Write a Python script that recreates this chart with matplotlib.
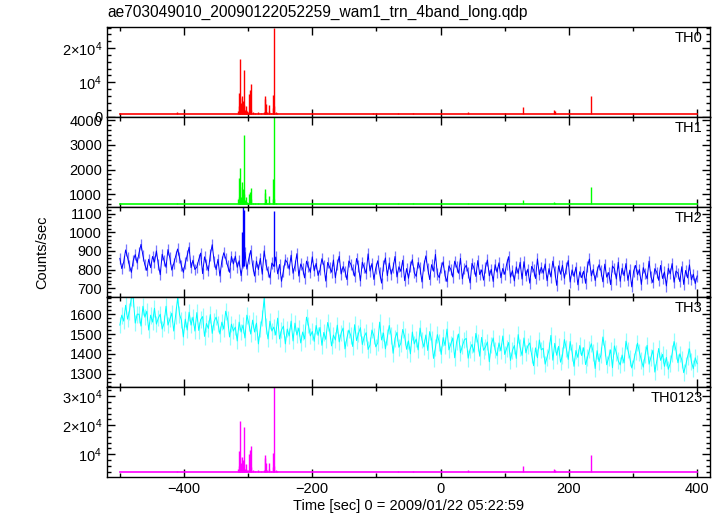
import numpy as np
import matplotlib
matplotlib.use("Agg")
import matplotlib.pyplot as plt
from matplotlib.ticker import MultipleLocator, FixedLocator, FixedFormatter

plt.rcParams['font.family'] = ['Liberation Sans', 'DejaVu Sans']
plt.rcParams['mathtext.fontset'] = 'custom'
plt.rcParams['mathtext.rm'] = 'Liberation Sans'
plt.rcParams['mathtext.it'] = 'Liberation Sans'

title = "ae703049010_20090122052259_wam1_trn_4band_long.qdp"
bands = ["TH0", "TH1", "TH2", "TH3", "TH0123"]
colors = ["#ff0000", "#00ff00", "#0000ff", "#00ffff", "#ff00ff"]

# 3 s grid for the noisy bands
t_start, t_stop, t_step = -500, 400, 3

th2 = [860, 805, 840, 905, 865, 820, 785, 850, 880, 835,
       890, 935, 875, 825, 795, 855, 810, 870, 840, 900,
       827, 772, 882, 847, 812, 907, 862, 797, 832, 872,
       910, 865, 820, 785, 835, 875, 920, 810, 850, 800,
       813, 853, 888, 778, 868, 828, 793, 878, 933, 843,
       800, 855, 765, 845, 890, 860, 820, 785, 870, 830,
       872, 812, 847, 767, 837, 892, 802, 857, 902, 822,
       765, 845, 800, 860, 775, 900, 825, 790, 755, 835,
       817, 867, 777, 827, 737, 792, 852, 837, 802, 877,
       780, 820, 885, 765, 830, 805, 755, 845, 815, 785,
       868, 793, 833, 768, 798, 858, 823, 738, 838, 813,
       786, 851, 756, 826, 871, 776, 816, 791, 746, 846,
       829, 799, 764, 859, 819, 739, 839, 809, 779, 884,
       792, 832, 747, 807, 847, 782, 727, 822, 862, 767,
       835, 775, 810, 870, 760, 815, 790, 850, 740, 805,
       753, 818, 853, 783, 763, 838, 808, 733, 823, 873,
       806, 746, 826, 791, 881, 776, 756, 811, 841, 766,
       735, 820, 800, 760, 845, 815, 780, 860, 750, 805,
       823, 783, 728, 833, 808, 763, 848, 773, 798, 743,
       811, 851, 766, 801, 736, 826, 786, 836, 756, 806,
       774, 829, 869, 759, 794, 739, 814, 779, 839, 749,
       842, 767, 802, 727, 817, 797, 752, 857, 772, 812,
       780, 830, 740, 805, 760, 845, 790, 715, 820, 775,
       823, 753, 808, 848, 733, 798, 763, 813, 718, 788,
       756, 791, 726, 816, 856, 766, 801, 741, 791, 826,
       794, 734, 829, 759, 784, 719, 819, 804, 749, 839,
       737, 807, 767, 832, 742, 797, 707, 792, 822, 772,
       800, 720, 810, 780, 750, 845, 760, 730, 805, 785,
       742, 822, 752, 787, 712, 807, 777, 832, 732, 792,
       780, 735, 815, 720, 795, 755, 825, 745, 775, 725,
       765]

th3 = [1545, 1595, 1565, 1645, 1575, 1615, 1685, 1680, 1555, 1600,
       1600, 1540, 1640, 1585, 1615, 1520, 1595, 1560, 1630, 1550,
       1580, 1600, 1525, 1555, 1640, 1545, 1575, 1605, 1515, 1595,
       1680, 1600, 1570, 1485, 1575, 1520, 1610, 1545, 1585, 1515,
       1608, 1518, 1573, 1588, 1488, 1553, 1528, 1598, 1503, 1563,
       1585, 1550, 1500, 1560, 1525, 1615, 1575, 1485, 1550, 1515,
       1535, 1465, 1560, 1510, 1545, 1480, 1595, 1555, 1500, 1570,
       1510, 1555, 1450, 1525, 1580, 1680, 1540, 1475, 1565, 1515,
       1535, 1495, 1580, 1475, 1520, 1540, 1450, 1525, 1490, 1565,
       1465, 1555, 1495, 1530, 1455, 1510, 1475, 1585, 1545, 1490,
       1513, 1463, 1543, 1493, 1533, 1443, 1508, 1473, 1558, 1518,
       1440, 1495, 1470, 1545, 1460, 1505, 1530, 1425, 1480, 1520,
       1492, 1437, 1547, 1467, 1502, 1532, 1447, 1487, 1507, 1422,
       1445, 1520, 1490, 1435, 1455, 1560, 1470, 1505, 1425, 1485,
       1543, 1493, 1403, 1478, 1508, 1433, 1453, 1523, 1488, 1423,
       1465, 1400, 1510, 1450, 1475, 1420, 1530, 1470, 1435, 1495,
       1417, 1512, 1472, 1377, 1432, 1497, 1457, 1397, 1482, 1442,
       1525, 1420, 1450, 1480, 1380, 1460, 1500, 1405, 1440, 1470,
       1478, 1378, 1423, 1448, 1408, 1503, 1458, 1388, 1483, 1418,
       1435, 1460, 1360, 1445, 1480, 1420, 1390, 1455, 1415, 1490,
       1397, 1427, 1457, 1367, 1417, 1442, 1377, 1497, 1432, 1392,
       1480, 1405, 1440, 1455, 1395, 1340, 1430, 1380, 1470, 1420,
       1428, 1348, 1383, 1418, 1493, 1368, 1453, 1393, 1438, 1358,
       1392, 1472, 1427, 1372, 1462, 1407, 1337, 1417, 1382, 1442,
       1391, 1431, 1346, 1381, 1421, 1451, 1406, 1326, 1416, 1361,
       1395, 1485, 1430, 1345, 1380, 1420, 1330, 1440, 1405, 1365,
       1344, 1394, 1354, 1464, 1419, 1379, 1329, 1364, 1409, 1454,
       1408, 1368, 1333, 1398, 1443, 1348, 1383, 1418, 1308, 1363,
       1427, 1367, 1397, 1337, 1382, 1322, 1352, 1402, 1462, 1417,
       1355, 1400, 1370, 1305, 1340, 1385, 1425, 1360, 1325, 1380,
       1350]
th2_err = 30
th3_err = 42

# quiet levels of the spiky bands
th0_base = 700
th1_base = 600
th0123_base = 3700

# burst spikes (1 s bins)
flare_t = [-316, -315, -314, -313, -312, -311, -310, -309, -308, -307,
           -306, -305, -304, -303, -302, -300, -298, -297, -296, -295,
           -293, -290, -285, -280, -275, -274, -273, -272, -270, -268,
           -267, -265, -262, -261, -260, -259, -257, -255,
           -411, -105, -66, -43, 43, 129, 177, 179, 234]
th0_flare = [1500, 6800, 3000, 5500, 16900, 4000, 6000, 2500, 4500, 13500,
             3500, 2000, 1800, 3000, 1500, 1400, 6500, 7800, 9400, 2000,
             1200, 1000, 1300, 1000, 1200, 6000, 5200, 3800, 1200, 1500,
             3400, 1000, 2500, 6300, 25800, 3000, 1200, 900,
             1200, 900, 1100, 1000, 1300, 2900, 1950, 1500, 6000]
th1_flare = [800, 1650, 900, 1300, 2050, 900, 1500, 800, 1200, 3400,
             1000, 750, 700, 900, 700, 650, 1000, 1100, 1250, 800,
             650, 650, 650, 620, 650, 1200, 1050, 800, 650, 700,
             950, 620, 800, 1600, 4300, 800, 650, 620,
             650, 630, 640, 630, 660, 780, 700, 660, 1300]
th0123_flare = [5000, 11000, 6000, 9000, 21500, 7000, 9000, 5500, 8000, 19500,
                6500, 5000, 4800, 6500, 4600, 4500, 10000, 11500, 13000, 5500,
                4500, 4300, 4600, 4300, 4500, 9600, 8800, 7000, 4500, 5000,
                7000, 4300, 5500, 10500, 34000, 6000, 4500, 4200,
                4300, 4000, 4200, 4100, 4400, 5900, 4800, 4400, 9700]
th2_flare_t = [-309, -308, -307, -260]
th2_flare = [1000, 1140, 1120, 1115]
th2_flare_base = 820

ylims = [(-100, 26200), (490, 4130), (653, 1136), (1233, 1687), (2150, 33200)]
t = np.arange(t_start, t_stop + 1, t_step)

fig, axes = plt.subplots(5, 1, sharex=True, figsize=(7.23, 5.16), dpi=100)
fig.subplots_adjust(left=0.148, right=0.982, top=0.948, bottom=0.0756, hspace=0)

spiky = {0: (th0_base, th0_flare), 1: (th1_base, th1_flare), 4: (th0123_base, th0123_flare)}
for i, ax in enumerate(axes):
    c = colors[i]
    if i in spiky:
        base, vals = spiky[i]
        ax.plot([t_start, t_stop], [base, base], color=c, lw=1.2)
        ax.vlines(flare_t, base, vals, color=c, lw=1.0)
    elif i == 2:
        ax.errorbar(t, th2, yerr=th2_err, fmt='none', ecolor='#7777ff', elinewidth=0.9)
        ax.plot(t, th2, color=c, lw=0.7)
        ax.vlines(th2_flare_t, th2_flare_base, th2_flare, color=c, lw=1.0)
    else:
        ax.errorbar(t, th3, yerr=th3_err, fmt='none', ecolor='#90ffff', elinewidth=0.9)
        ax.plot(t, th3, color=c, lw=0.7)
    ax.set_ylim(*ylims[i])
    ax.set_xlim(-520, 420)
    ax.text(0.988, 0.955, bands[i], transform=ax.transAxes, ha='right', va='top', fontsize=10.5)
    ax.tick_params(which='both', direction='in', top=True, right=True, labelsize=10.5)
    ax.tick_params(which='major', length=6, width=1)
    ax.tick_params(which='minor', length=3, width=1)
    ax.xaxis.set_major_locator(MultipleLocator(200))
    ax.xaxis.set_minor_locator(MultipleLocator(100))
    for s in ax.spines.values():
        s.set_linewidth(1.0)

axes[0].yaxis.set_major_locator(FixedLocator([0, 10000, 20000]))
axes[0].yaxis.set_major_formatter(FixedFormatter(["0", r"$10^4$", r"$2{\times}10^4$"]))
axes[0].yaxis.set_minor_locator(MultipleLocator(2000))
axes[1].yaxis.set_major_locator(MultipleLocator(1000))
axes[1].yaxis.set_minor_locator(MultipleLocator(200))
axes[2].yaxis.set_major_locator(MultipleLocator(100))
axes[2].yaxis.set_minor_locator(MultipleLocator(20))
axes[3].yaxis.set_major_locator(MultipleLocator(100))
axes[3].yaxis.set_minor_locator(MultipleLocator(20))
axes[4].yaxis.set_major_locator(FixedLocator([10000, 20000, 30000]))
axes[4].yaxis.set_major_formatter(FixedFormatter([r"$10^4$", r"$2{\times}10^4$", r"$3{\times}10^4$"]))
axes[4].yaxis.set_minor_locator(MultipleLocator(2000))

axes[-1].set_xlabel("Time [sec] 0 = 2009/01/22 05:22:59", fontsize=10.5, labelpad=2)
fig.text(0.058, 0.512, "Counts/sec", rotation=90, ha='center', va='center', fontsize=10.5)
fig.text(0.149, 0.975, title, ha='left', va='center', fontsize=11.2)

fig.savefig("out.png", dpi=100)
